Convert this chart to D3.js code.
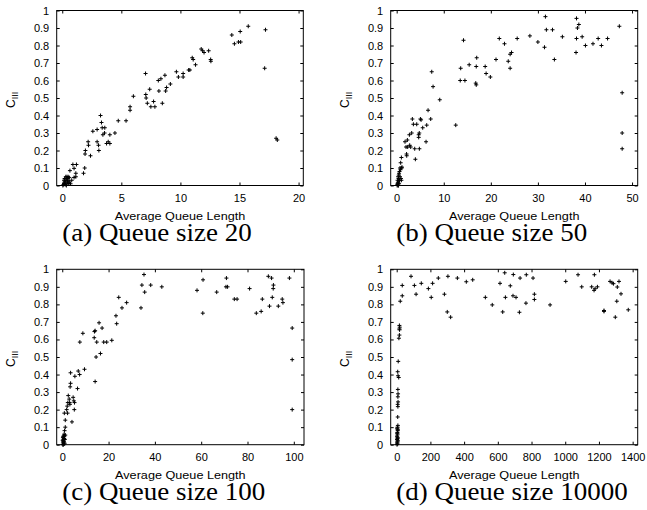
<!DOCTYPE html>
<html lang="en">
  <head>
    <meta charset="UTF-8" />
    <title>Queue size scatter plots</title>
    <script src="https://d3js.org/d3.v7.min.js"></script>
    <style>
      body {
        margin: 0;
        background: #fff;
      }
      svg {
        display: block;
      }
      .tick text {
        font-family: "Liberation Sans", Arial, sans-serif;
        font-size: 11px;
        fill: #000;
      }
      .tick line {
        stroke: #000;
      }
      .xlabel {
        font-family: "Liberation Sans", Arial, sans-serif;
        font-size: 11px;
      }
      .ylabel {
        font-family: "Liberation Sans", Arial, sans-serif;
        font-size: 12px;
      }
      .caption {
        font-family: "Liberation Serif", "Times New Roman", serif;
        font-size: 25px;
      }
    </style>
  </head>
  <body>
    <svg id="chart" width="647" height="510"></svg>

    <script>
      // points: [average queue length, C_III]
      const size20 = [
        [0.05, 0], [0.1, 0.005], [0.15, 0.01], [0.2, 0.02], [0.25, 0.005], [0.3, 0.03],
        [0.35, 0.04], [0.4, 0.05], [0.45, 0.02], [0.5, 0.03], [0.55, 0.01], [0.3, 0.05],
        [0.2, 0.04], [0.6, 0.02], [0.4, 0.01], [0.5, 0.05], [0.7, 0.01], [0.25, 0.02],
        [0.35, 0], [0.15, 0.03], [0.45, 0.04], [0.6, 0.045], [0.65, 0.085], [0.9, 0.12],
        [1.2, 0.12], [1.0, 0.098], [0.8, 0.03], [1.0, 0.046], [1.15, 0.07], [1.15, 0.05],
        [1.8, 0.07], [1.9, 0.1], [1.93, 0.18], [1.96, 0.2], [2.19, 0.25], [2.22, 0.23],
        [2.39, 0.17], [2.59, 0.31], [2.95, 0.32], [2.95, 0.25], [3.07, 0.23], [3.1, 0.2],
        [3.24, 0.4], [3.32, 0.36], [3.38, 0.33], [3.44, 0.29], [3.58, 0.3], [3.6, 0.33],
        [3.75, 0.24], [3.89, 0.25], [4.03, 0.24], [4.03, 0.29], [4.46, 0.3], [4.74, 0.37],
        [5.4, 0.37], [5.74, 0.43], [5.74, 0.45], [6.02, 0.51], [7.05, 0.64], [7.07, 0.52],
        [7.1, 0.5], [7.2, 0.47], [7.4, 0.55], [7.5, 0.45], [7.73, 0.48], [7.84, 0.45],
        [8.18, 0.54], [8.13, 0.6], [8.35, 0.61], [8.47, 0.47], [8.69, 0.63], [8.75, 0.54],
        [8.83, 0.56], [9.15, 0.58], [9.66, 0.65], [9.83, 0.62], [10.23, 0.64], [10.23, 0.62],
        [10.7, 0.66], [10.8, 0.66], [11.0, 0.73], [11.08, 0.72], [11.28, 0.69], [11.76, 0.78],
        [11.88, 0.77], [12.0, 0.76], [12.39, 0.77], [12.56, 0.72], [12.58, 0.71], [14.35, 0.86],
        [14.57, 0.81], [14.91, 0.82], [15.1, 0.82], [15.06, 0.88], [15.74, 0.91], [17.13, 0.67],
        [17.2, 0.89], [18.1, 0.27], [18.2, 0.26]
      ];

      const size50 = [
        [0.1, 0], [0.2, 0.01], [0.2, 0.03], [0.3, 0.05], [0.35, 0.02], [0.4, 0.04],
        [0.5, 0.07], [0.6, 0.08], [0.7, 0.1], [0.8, 0.09], [0.9, 0.04], [1.0, 0.03],
        [0.3, 0], [0.5, 0.01], [0.45, 0.06], [0.6, 0.03], [0.15, 0.005], [0.25, 0.015],
        [0.7, 0.05], [0.4, 0], [0.85, 0.13], [1.0, 0.16], [1.06, 0.1], [1.13, 0.105],
        [1.77, 0.25], [1.99, 0.22], [2.13, 0.17], [2.1, 0.18], [2.27, 0.26], [2.34, 0.22],
        [2.7, 0.29], [2.77, 0.23], [2.98, 0.22], [3.19, 0.3], [3.33, 0.38], [3.55, 0.35],
        [3.83, 0.21], [3.97, 0.15], [4.26, 0.35], [4.68, 0.29], [4.8, 0.3], [4.68, 0.275],
        [4.82, 0.21], [5.04, 0.38], [5.18, 0.375], [5.53, 0.33], [6.24, 0.25], [6.38, 0.345],
        [6.67, 0.43], [7.23, 0.38], [7.45, 0.65], [7.73, 0.565], [9.15, 0.49], [12.55, 0.345],
        [13.6, 0.67], [13.5, 0.6], [14.2, 0.83], [14.5, 0.6], [15.4, 0.69], [16.9, 0.68],
        [16.8, 0.585], [16.9, 0.575], [17.0, 0.73], [18.8, 0.68], [19.0, 0.64], [19.9, 0.62],
        [21.1, 0.72], [21.8, 0.84], [22.9, 0.81], [23.7, 0.71], [24.1, 0.67], [24.1, 0.75],
        [24.4, 0.76], [25.6, 0.84], [28.3, 0.855], [30.0, 0.82], [31.4, 0.79], [31.6, 0.965],
        [31.8, 0.89], [33.1, 0.89], [33.5, 0.72], [35.2, 0.85], [38.1, 0.76], [38.2, 0.955],
        [38.2, 0.84], [38.4, 0.9], [38.7, 0.92], [39.4, 0.85], [40.1, 0.8], [41.7, 0.81],
        [42.8, 0.84], [43.5, 0.8], [44.8, 0.84], [47.3, 0.91], [47.9, 0.53], [47.9, 0.3],
        [47.9, 0.21]
      ];

      const size100 = [
        [0.2, 0], [0.3, 0.01], [0.4, 0.02], [0.5, 0.03], [0.3, 0.04], [0.6, 0.05],
        [0.8, 0.06], [1.0, 0.05], [0.7, 0.02], [0.9, 0.01], [0.5, 0], [1.1, 0.03],
        [0.4, 0.045], [0.6, 0.015], [1.3, 0.055], [0.8, 0.035], [0.2, 0.025], [1.0, 0.005],
        [1.0, 0.08], [1.3, 0.1], [1.3, 0.14], [0.9, 0.18], [2.3, 0.18], [1.9, 0.2],
        [2.15, 0.22], [2.4, 0.24], [2.6, 0.28], [3.0, 0.26], [3.2, 0.24], [3.3, 0.23],
        [3.4, 0.33], [3.6, 0.35], [3.6, 0.41], [4.2, 0.13], [4.7, 0.27], [5.0, 0.25],
        [5.2, 0.2], [5.3, 0.24], [5.45, 0.39], [6.6, 0.32], [6.9, 0.42], [7.5, 0.4],
        [7.6, 0.585], [8.9, 0.635], [9.6, 0.43], [13.8, 0.61], [13.9, 0.645], [14.2, 0.65],
        [14.2, 0.36], [14.6, 0.5], [14.9, 0.585], [15.9, 0.695], [16.5, 0.52], [17.2, 0.665],
        [17.9, 0.585], [19.2, 0.585], [21.4, 0.595], [23.2, 0.735], [23.5, 0.69], [24.4, 0.84],
        [25.8, 0.78], [27.8, 0.81], [34.0, 0.78], [34.4, 0.91], [35.3, 0.97], [35.6, 0.87],
        [38.2, 0.91], [43.0, 0.9], [58.2, 0.88], [60.7, 0.75], [60.8, 0.94], [66.7, 0.87],
        [70.9, 0.95], [70.7, 0.9], [71.4, 0.9], [74.3, 0.83], [75.5, 0.83], [80.9, 0.89],
        [83.8, 0.75], [85.9, 0.76], [86.4, 0.83], [89.0, 0.96], [89.5, 0.79], [90.4, 0.95],
        [90.7, 0.84], [91.1, 0.89], [91.2, 0.91], [93.3, 0.79], [95.0, 0.83], [95.3, 0.81],
        [98.1, 0.95], [99.3, 0.665], [99.3, 0.485], [99.3, 0.2]
      ];

      const size10000 = [
        [2, 0], [4, 0.005], [3, 0.01], [5, 0.02], [2, 0.03], [6, 0.04], [3, 0.05],
        [5, 0.06], [4, 0.07], [6, 0.08], [3, 0.09], [5, 0.1], [7, 0.11], [4, 0.015],
        [6, 0.025], [2, 0.045], [5, 0.035], [3, 0.065], [7, 0.085], [4, 0.095],
        [6, 0.158], [7, 0.217], [6, 0.23], [8, 0.244], [7, 0.273], [8, 0.29], [7, 0.315],
        [12, 0.383], [8, 0.393], [6, 0.416], [9, 0.475], [13, 0.607], [16, 0.625],
        [17, 0.655], [16, 0.66], [18, 0.67], [16, 0.68],
        [21, 0.818], [33, 0.849], [33, 0.908], [85, 0.96], [105, 0.908], [115, 0.858],
        [146, 0.92], [188, 0.89], [205, 0.84], [213, 0.92], [247, 0.95], [283, 0.858],
        [304, 0.96], [300, 0.757], [320, 0.727], [360, 0.95], [413, 0.929], [451, 0.94],
        [526, 0.84], [567, 0.797], [613, 0.92], [629, 0.757], [641, 0.98], [645, 0.84],
        [674, 0.906], [690, 0.849], [692, 0.97], [708, 0.84], [728, 0.755], [732, 0.95],
        [767, 0.807], [769, 0.969], [809, 0.95], [817, 0.858], [817, 0.828], [910, 0.797],
        [1003, 0.931], [1076, 0.969], [1098, 0.9], [1157, 0.9], [1171, 0.88], [1173, 0.969],
        [1177, 0.889], [1191, 0.9], [1230, 0.76], [1230, 0.765], [1266, 0.931], [1278, 0.923],
        [1286, 0.918], [1297, 0.727], [1306, 0.818], [1309, 0.899], [1319, 0.931],
        [1331, 0.86], [1374, 0.769]
      ];

      const yTicks = d3.range(0, 1.0001, 0.1);
      const xTicks20 = [0, 5, 10, 15, 20];
      const xTicks50 = [0, 10, 20, 30, 40, 50];
      const xTicks100 = [0, 20, 40, 60, 80, 100];
      const xTicks10000 = [0, 200, 400, 600, 800, 1000, 1200, 1400];
      const captions = [
        "(a) Queue size 20",
        "(b) Queue size 50",
        "(c) Queue size 100",
        "(d) Queue size 10000",
      ];

      const svg = d3.select("#chart");

      const panels = [
        { data: size20, ticks: xTicks20, dom: [-0.47, 20.4], box: [56.7, 303.3, 10.5, 185.5], caption: captions[0] },
        { data: size50, ticks: xTicks50, dom: [-1.27, 51.2], box: [390.7, 637.7, 10.5, 185.5], caption: captions[1] },
        { data: size100, ticks: xTicks100, dom: [-2.4, 104.4], box: [56.7, 304, 269.3, 444.7], caption: captions[2] },
        { data: size10000, ticks: xTicks10000, dom: [-35.6, 1430], box: [390.7, 637.7, 269.3, 444.7], caption: captions[3] },
      ];

      panels.forEach(drawPanel);

      function drawPanel(p) {
        const [left, right, top, bottom] = p.box;
        const x = d3.scaleLinear().domain(p.dom).range([left, right]);
        const y = d3.scaleLinear().domain([0, 1]).range([bottom, top]);
        const g = svg.append("g");

        // inward ticks on all four sides, like gnuplot
        g.append("g")
          .attr("transform", `translate(${left},0)`)
          .call(d3.axisLeft(y).tickValues(yTicks).tickSize(-3).tickPadding(7.5).tickFormat(d3.format("~g")));
        g.append("g")
          .attr("transform", `translate(${right},0)`)
          .call(d3.axisRight(y).tickValues(yTicks).tickSize(-3).tickFormat(""));
        g.append("g")
          .attr("transform", `translate(0,${bottom})`)
          .call(d3.axisBottom(x).tickValues(p.ticks).tickSize(-3).tickPadding(9).tickFormat(d3.format("d")));
        g.append("g")
          .attr("transform", `translate(0,${top})`)
          .call(d3.axisTop(x).tickValues(p.ticks).tickSize(-3).tickFormat(""));
        g.selectAll(".domain").remove();

        g.append("rect")
          .attr("x", left)
          .attr("y", top)
          .attr("width", right - left)
          .attr("height", bottom - top)
          .attr("fill", "none")
          .attr("stroke", "#000")
          .attr("stroke-width", 1);

        g.append("g")
          .selectAll("path")
          .data(p.data)
          .join("path")
          .attr("transform", (d) => `translate(${x(d[0])},${y(d[1])})`)
          .attr("d", "M-2,0H2M0,-2V2")
          .attr("stroke", "#000")
          .attr("stroke-width", 1);

        // the source figure is stretched a little sideways, so the labels are too
        g.append("text")
          .attr("class", "xlabel")
          .attr("transform", `translate(${(left + right) / 2},${bottom + 34.5}) scale(1.15,1)`)
          .attr("text-anchor", "middle")
          .text("Average Queue Length");

        const yl = g.append("text")
          .attr("class", "ylabel")
          .attr("transform", `translate(${left - 42},${(top + bottom) / 2 + 10}) rotate(-90)`);
        yl.append("tspan").text("C");
        yl.append("tspan").attr("dy", 3).attr("font-size", "9px").text("III");

        g.append("text")
          .attr("class", "caption")
          .attr("transform", `translate(${left + 5.5},${bottom + 55}) scale(1.08,1)`)
          .text(p.caption);
      }
    </script>
  </body>
</html>
